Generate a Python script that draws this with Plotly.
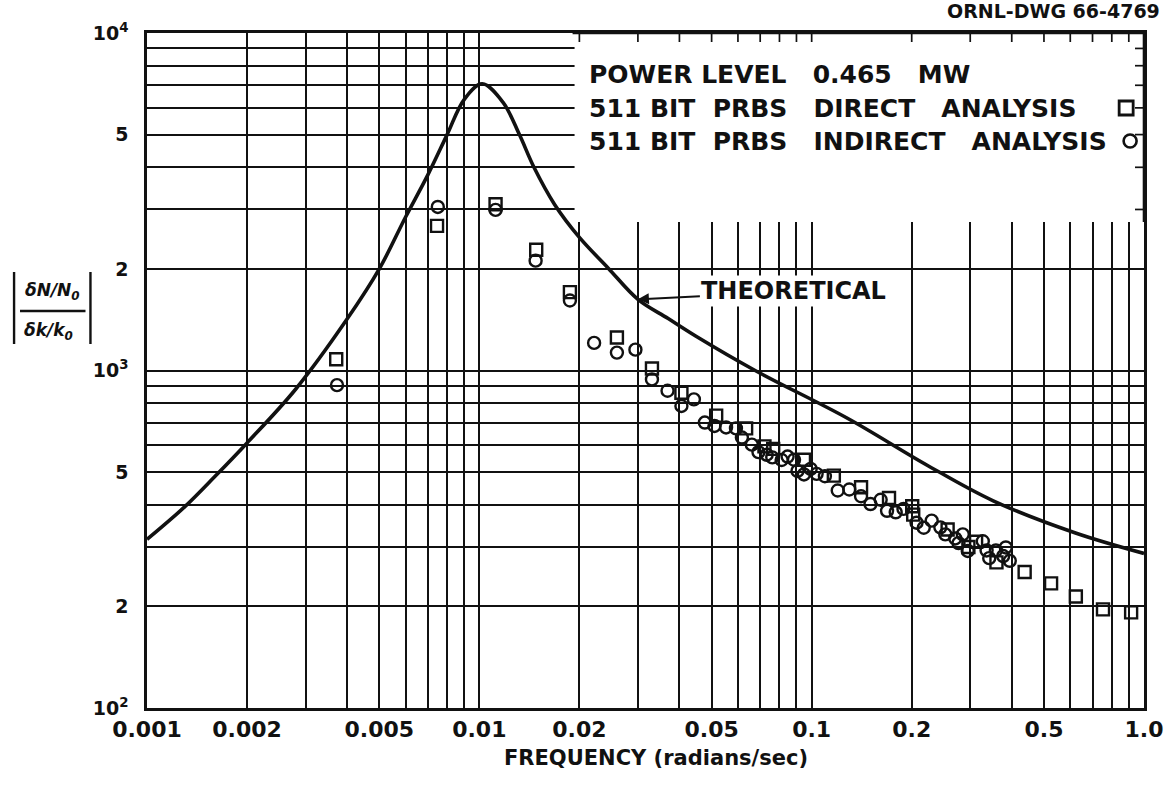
import plotly.graph_objects as go
import math

# Theoretical |(dN/N0)/(dk/k0)| vs frequency
theory_freq = [0.001, 0.0013, 0.0016, 0.002, 0.0028, 0.004, 0.005, 0.006, 0.007,
               0.008, 0.009, 0.0102, 0.0118, 0.0132, 0.0146, 0.01686, 0.02, 0.02443,
               0.03, 0.037, 0.04475, 0.06759, 0.1281, 0.2219, 0.3518, 0.6223, 1.0]
theory_gain = [316, 395, 485, 610, 880, 1420, 2000, 2850, 3800,
               5000, 6350, 7070, 6216, 5000, 4000, 3100, 2480, 2010,
               1625, 1425, 1265, 1000, 722, 525, 411, 330, 287]

# 511 bit PRBS, direct analysis (squares)
direct_freq = [0.00371, 0.00746, 0.01119, 0.01483, 0.01873, 0.02594, 0.03307, 0.04056,
               0.0516, 0.0635, 0.0721, 0.0766, 0.0948, 0.1166, 0.1408, 0.1709, 0.2007,
               0.2021, 0.2565, 0.2962, 0.3124, 0.3598, 0.4374, 0.5253, 0.6236, 0.7527, 0.9146]
direct_gain = [1080, 2683, 3109, 2279, 1707, 1252, 1014, 859,
               735, 674, 596, 586, 544, 488, 451, 419, 396,
               374, 338, 300, 311, 270, 253, 234, 214, 196, 192]

# 511 bit PRBS, indirect analysis (circles)
indirect_freq = [0.00373, 0.0075, 0.01119, 0.01477, 0.01873, 0.02215, 0.02594, 0.02949,
                 0.03307, 0.03684, 0.04056, 0.04422, 0.0477, 0.051, 0.05526, 0.05918,
                 0.06167, 0.06607, 0.06916, 0.07322, 0.07611, 0.08121, 0.08463, 0.08849,
                 0.09066, 0.0948, 0.0993, 0.1035, 0.1096, 0.1198, 0.1298, 0.1408, 0.1503,
                 0.1613, 0.1686, 0.179, 0.1889, 0.2068, 0.2174, 0.2297, 0.2439, 0.2524,
                 0.2704, 0.2766, 0.2849, 0.2949, 0.3273, 0.336, 0.3422, 0.3584, 0.3769,
                 0.3839, 0.3946]
indirect_gain = [905, 3052, 2991, 2116, 1612, 1207, 1130, 1153,
                 941, 871, 785, 821, 701, 685, 678, 674,
                 633, 603, 573, 563, 553, 543, 556, 544,
                 504, 492, 511, 494, 486, 441, 444, 424, 402,
                 414, 384, 380, 389, 354, 342, 359, 343, 327,
                 318, 308, 327, 292, 312, 293, 278, 293, 282,
                 299, 273]

x_label_vals = [0.001, 0.002, 0.005, 0.01, 0.02, 0.05, 0.1, 0.2, 0.5, 1.0]
x_label_text = ["0.001", "0.002", "0.005", "0.01", "0.02", "0.05", "0.1", "0.2", "0.5", "1.0"]
y_label_vals = [100, 200, 500, 1000, 2000, 5000, 10000]
y_label_text = ["10<sup>2</sup>", "2", "5", "10<sup>3</sup>", "2", "5", "10<sup>4</sup>"]

NB = "\u00a0"
legend_lines = ["POWER" + NB + "LEVEL" + NB * 3 + "0.465" + NB * 3 + "MW",
                "511" + NB + "BIT" + NB * 2 + "PRBS" + NB * 3 + "DIRECT" + NB * 3 + "ANALYSIS",
                "511" + NB + "BIT" + NB * 2 + "PRBS" + NB * 3 + "INDIRECT" + NB * 3 + "ANALYSIS"]

FONT = "DejaVu Sans"
INK = "#111111"
X_RANGE = [-3, 0]
Y_RANGE = [2, 4]


def decade_lines(lo_exp, hi_exp):
    """All 1..9 x 10^k values spanning the axis range (log-paper rulings)."""
    vals = []
    for e in range(lo_exp, hi_exp + 1):
        for m in range(1, 10):
            v = round(m * 10 ** e, 10)
            if v > 10 ** hi_exp + 1e-12:
                break
            vals.append(v)
    return vals


x_grid = decade_lines(X_RANGE[0], X_RANGE[1])
y_grid = decade_lines(Y_RANGE[0], Y_RANGE[1])

fig = go.Figure()

fig.add_trace(go.Scatter(
    x=indirect_freq, y=indirect_gain, mode="markers",
    marker=dict(symbol="circle-open", size=12, color=INK, line=dict(width=2.4, color=INK)),
    showlegend=False))
fig.add_trace(go.Scatter(
    x=direct_freq, y=direct_gain, mode="markers",
    marker=dict(symbol="square-open", size=12, color=INK, line=dict(width=2.4, color=INK)),
    showlegend=False))
fig.add_trace(go.Scatter(
    x=theory_freq, y=theory_gain, mode="lines",
    line=dict(color=INK, width=3.6, shape="spline", smoothing=1.0),
    showlegend=False))

axis_common = dict(
    type="log", showgrid=True, gridcolor=INK, gridwidth=1.7,
    showline=True, linecolor=INK, linewidth=2.6, mirror="ticks",
    ticks="inside", ticklen=9, tickwidth=1.7, tickcolor=INK,
    zeroline=False, tickmode="array",
)

fig.update_xaxes(
    **axis_common, range=X_RANGE, tickvals=x_label_vals, ticktext=x_label_text,
    tickfont=dict(family=FONT, size=22, color=INK, weight="bold"),
    ticklabelstandoff=0,
    minor=dict(tickmode="array", tickvals=x_grid, showgrid=True, gridcolor=INK,
               gridwidth=1.7, ticks="inside", ticklen=9, tickwidth=1.7, tickcolor=INK),
)
fig.update_yaxes(
    **axis_common, range=Y_RANGE, tickvals=y_label_vals, ticktext=y_label_text,
    tickfont=dict(family=FONT, size=19, color=INK, weight="bold"),
    ticklabelstandoff=12,
    minor=dict(tickmode="array", tickvals=y_grid, showgrid=True, gridcolor=INK,
               gridwidth=1.7, ticks="inside", ticklen=9, tickwidth=1.7, tickcolor=INK),
)

L, R, T, B = 147, 23, 33, 80
W, H = 1175, 788
pw, ph = W - L - R, H - T - B


def px(xp):
    return (xp - L) / pw


def py(yp):
    return (H - B - yp) / ph


box_x0, box_y0 = px(578), py(222)

shapes = [
    # blank panel holding the key
    dict(type="rect", xref="paper", yref="paper", x0=box_x0, x1=1, y0=box_y0, y1=1,
         fillcolor="white", line=dict(width=0), layer="above"),
    # frame edges over the panel
    dict(type="line", xref="paper", yref="paper", x0=box_x0 - 0.002, x1=1, y0=1, y1=1,
         line=dict(color=INK, width=2.6)),
    dict(type="line", xref="paper", yref="paper", x0=1, x1=1, y0=box_y0, y1=1,
         line=dict(color=INK, width=2.6)),
]

# short tick marks along the panel's top and right edges
for v in x_grid:
    xp = (math.log10(v) - X_RANGE[0]) / (X_RANGE[1] - X_RANGE[0])
    if box_x0 < xp < 1:
        shapes.append(dict(type="line", xref="paper", yref="paper", ysizemode="pixel",
                           yanchor=1, y0=0, y1=-9, x0=xp, x1=xp,
                           line=dict(color=INK, width=1.7)))
for v in y_grid:
    yp = (math.log10(v) - Y_RANGE[0]) / (Y_RANGE[1] - Y_RANGE[0])
    if box_y0 < yp < 1:
        shapes.append(dict(type="line", xref="paper", yref="paper", xsizemode="pixel",
                           xanchor=1, x0=0, x1=-9, y0=yp, y1=yp,
                           line=dict(color=INK, width=1.7)))

shapes += [
    # key symbols
    dict(type="rect", xref="paper", yref="paper", xsizemode="pixel", ysizemode="pixel",
         xanchor=px(1134), yanchor=py(108), x0=-7, x1=7, y0=-7, y1=7,
         line=dict(color=INK, width=2.8), fillcolor="rgba(0,0,0,0)"),
    dict(type="circle", xref="paper", yref="paper", xsizemode="pixel", ysizemode="pixel",
         xanchor=px(1138), yanchor=py(141), x0=-6.5, x1=6.5, y0=-6.5, y1=6.5,
         line=dict(color=INK, width=2.6), fillcolor="rgba(0,0,0,0)"),
    # y-axis title: fraction bar and absolute value bars
    dict(type="line", xref="paper", yref="paper", x0=px(19), x1=px(85), y0=py(311), y1=py(311),
         line=dict(color=INK, width=2.4)),
    dict(type="line", xref="paper", yref="paper", x0=px(13), x1=px(13), y0=py(272), y1=py(344),
         line=dict(color=INK, width=2.4)),
    dict(type="line", xref="paper", yref="paper", x0=px(90), x1=px(90), y0=py(272), y1=py(344),
         line=dict(color=INK, width=2.4)),
]

annotations = []
for txt, yp in zip(legend_lines, [75, 109, 141]):
    annotations.append(dict(
        text=txt, xref="paper", yref="paper", x=px(591), y=py(yp),
        xanchor="left", yanchor="middle", showarrow=False,
        font=dict(family=FONT, size=25, color=INK, weight="bold")))

annotations += [
    dict(text="ORNL-DWG 66-4769", xref="paper", yref="paper", x=px(1170), y=py(11),
         xanchor="right", yanchor="middle", showarrow=False,
         font=dict(family=FONT, size=19, color=INK, weight="bold")),
    dict(text="FREQUENCY (radians/sec)", xref="paper", yref="paper", x=px(660), y=py(758),
         xanchor="center", yanchor="middle", showarrow=False,
         font=dict(family=FONT, size=21, color=INK, weight="bold")),
    dict(text="<i>δN/N<sub>0</sub></i>", xref="paper", yref="paper", x=px(52), y=py(291),
         xanchor="center", yanchor="middle", showarrow=False,
         font=dict(family=FONT, size=17, color=INK, weight="bold")),
    dict(text="<i>δk/k<sub>0</sub></i>", xref="paper", yref="paper", x=px(48), y=py(331),
         xanchor="center", yanchor="middle", showarrow=False,
         font=dict(family=FONT, size=17, color=INK, weight="bold")),
    dict(text="THEORETICAL", x=math.log10(0.03), y=math.log10(1625), xref="x", yref="y",
         showarrow=True, arrowhead=2, arrowsize=1.1, arrowwidth=2, arrowcolor=INK,
         ax=156, ay=-8, axref="pixel", ayref="pixel", standoff=0,
         bgcolor="white", borderpad=1,
         font=dict(family=FONT, size=24, color=INK, weight="bold")),
]

fig.update_layout(
    width=W, height=H, margin=dict(l=L, r=R, t=T, b=B),
    paper_bgcolor="white", plot_bgcolor="white",
    shapes=shapes, annotations=annotations, showlegend=False,
)

fig.write_html("out.html")
